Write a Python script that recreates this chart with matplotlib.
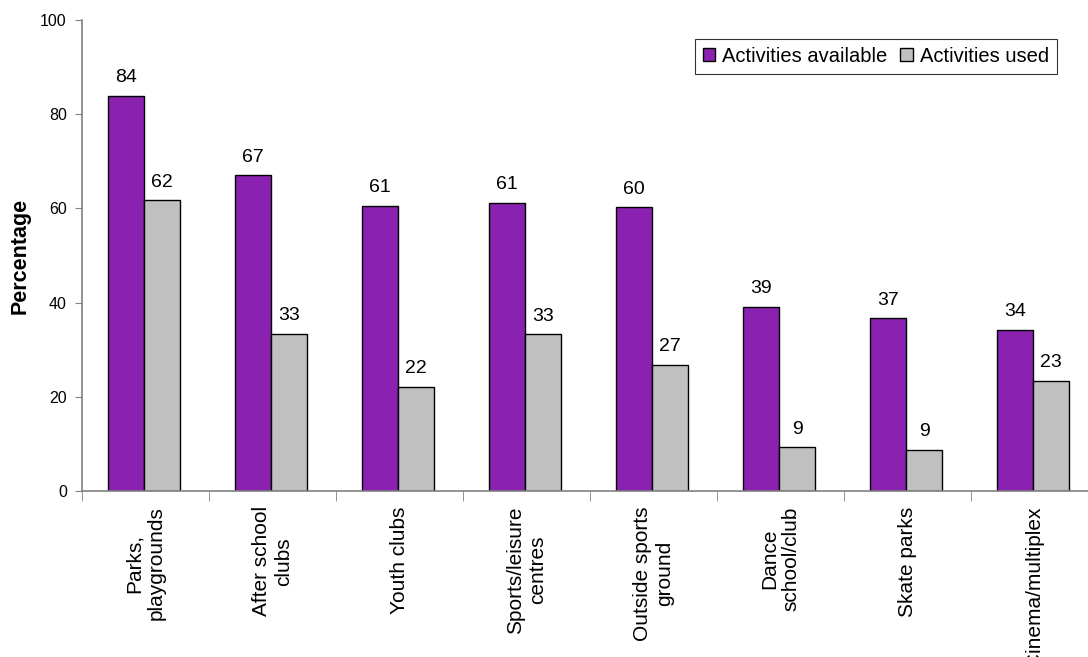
import matplotlib
matplotlib.use("Agg")
import matplotlib.pyplot as plt
import numpy as np

plt.rcParams['font.family'] = ['Liberation Sans', 'DejaVu Sans']

# data
categories = ['Parks,\nplaygrounds', 'After school\nclubs', 'Youth clubs',
              'Sports/leisure\ncentres', 'Outside sports\nground', 'Dance\nschool/club',
              'Skate parks', 'Cinema/multiplex']
available = [83.9, 67.1, 60.6, 61.2, 60.3, 39.1, 36.7, 34.2]
used = [61.7, 33.4, 22.1, 33.3, 26.8, 9.3, 8.8, 23.4]

purple = '#8A21B0'
grey = '#C0C0C0'

fig = plt.figure(figsize=(10.88, 6.57), dpi=100)
ax = fig.add_axes([0.0754, 0.2527, 0.9336, 0.7169])

x = np.arange(len(categories))
w = 0.283
b1 = ax.bar(x - w / 2 - 0.01, available, w, color=purple, edgecolor='black', linewidth=1,
            label='Activities available')
b2 = ax.bar(x + w / 2 - 0.01, used, w, color=grey, edgecolor='black', linewidth=1,
            label='Activities used')

for bars, vals in [(b1, available), (b2, used)]:
    for bar, v in zip(bars, vals):
        ax.text(bar.get_x() + bar.get_width() / 2, v + 2, f'{v:.0f}',
                ha='center', va='bottom', fontsize=14)

ax.set_xlim(-0.5, 7.5)
ax.set_ylim(0, 100)
ax.set_yticks([0, 20, 40, 60, 80, 100])
ax.tick_params(axis='y', labelsize=11.5, length=5, color='#808080', pad=6)

ax.set_xticks(x)
ax.set_xticklabels(categories, rotation=90, fontsize=15, ha='center', va='top',
                   multialignment='center')
ax.tick_params(axis='x', length=0, pad=11)
ax.set_xticks(np.arange(-0.5, 8, 1), minor=True)
ax.tick_params(axis='x', which='minor', length=7, color='#808080')

for s in ['top', 'right']:
    ax.spines[s].set_visible(False)
for s in ['left', 'bottom']:
    ax.spines[s].set_color('#808080')
    ax.spines[s].set_linewidth(1.2)

ax.set_ylabel('Percentage', fontsize=15.5, fontweight='bold', labelpad=7)

leg = ax.legend(loc='upper right', bbox_to_anchor=(0.9596, 0.96), fontsize=14.5,
                frameon=True, fancybox=False, ncol=2, handlelength=0.6, handleheight=0.6,
                handletextpad=0.35, columnspacing=0.65, borderpad=0.4, borderaxespad=0)
leg.get_frame().set_edgecolor('black')
leg.get_frame().set_linewidth(0.8)

fig.savefig('out.png', dpi=100)
